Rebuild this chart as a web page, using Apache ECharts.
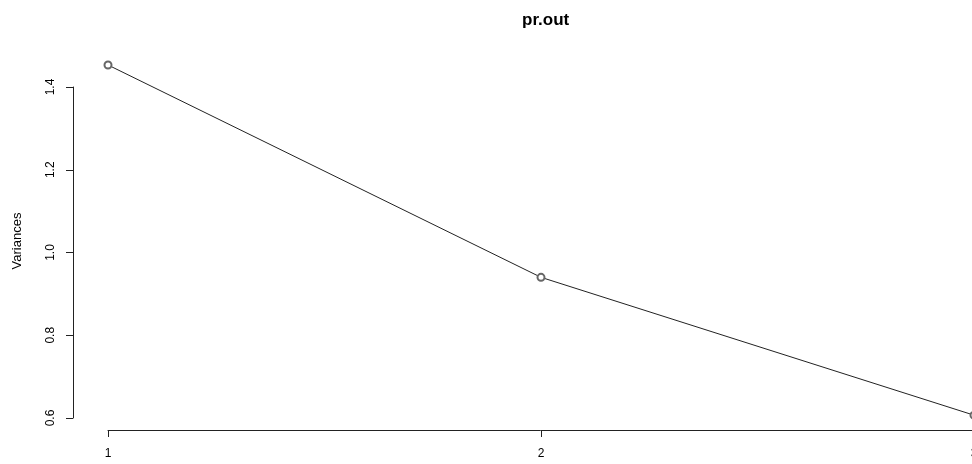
<!DOCTYPE html>
<html>
<head>
<meta charset="utf-8">
<script src="https://cdn.jsdelivr.net/npm/echarts@6/dist/echarts.min.js"></script>
<style>html,body{margin:0;padding:0;background:#fff}#c{width:972px;height:464px}</style>
</head>
<body>
<div id="c"></div>
<script>
const components = [1, 2, 3];
const variances = [1.4532, 0.9400, 0.6068];
const yTicks = [0.6, 0.8, 1.0, 1.2, 1.4];
const xTicks = [1, 2, 3];
const titleText = 'pr.out';
const yName = 'Variances';

const chart = echarts.init(document.getElementById('c'), null, {renderer: 'canvas'});
const FONT = 'Liberation Sans, Arial, sans-serif';
chart.setOption({
  animation: false,
  backgroundColor: '#fff',
  title: {
    text: titleText, left: 517, top: 7,
    textStyle: {fontFamily: FONT, fontSize: 17, fontWeight: 'bold', color: '#000'}
  },
  graphic: [{
    type: 'text', x: 17, y: 241, rotation: Math.PI / 2,
    style: {text: yName, align: 'center', verticalAlign: 'middle', font: '13px ' + FONT, fill: '#000'}
  }],
  grid: {left: 108, right: -2, top: 87, bottom: 46, containLabel: false, outerBoundsMode: 'none'},
  xAxis: {
    type: 'value', min: xTicks[0], max: xTicks[xTicks.length - 1], interval: 1,
    offset: 12,
    axisLine: {show: true, onZero: false, lineStyle: {color: '#222', width: 1}},
    axisTick: {show: true, length: 7, lineStyle: {color: '#222'}},
    axisLabel: {margin: 18, fontFamily: FONT, fontSize: 12, color: '#000', showMaxLabel: true, showMinLabel: true},
    splitLine: {show: false}
  },
  yAxis: {
    type: 'value', min: yTicks[0], max: yTicks[yTicks.length - 1], interval: 0.2,
    offset: 35,
    axisLine: {show: true, onZero: false, lineStyle: {color: '#222', width: 1}},
    axisTick: {show: true, length: 7, lineStyle: {color: '#222'}},
    axisLabel: {rotate: 90, margin: 16, fontFamily: FONT, fontSize: 12, color: '#000',
      formatter: v => v.toFixed(1)},
    splitLine: {show: false}
  },
  series: [{
    type: 'line',
    data: components.map((c, i) => [c, variances[i]]),
    clip: false,
    symbol: 'emptyCircle',
    symbolSize: 7,
    lineStyle: {color: '#222', width: 1},
    itemStyle: {color: '#666', borderColor: '#666', borderWidth: 0.7}
  }]
});
</script>
</body>
</html>
